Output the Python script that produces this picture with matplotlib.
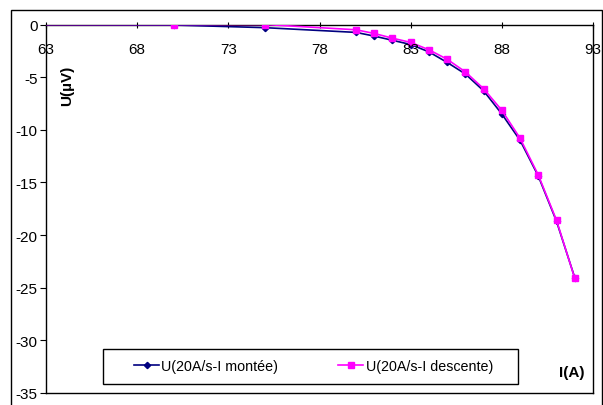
import matplotlib.pyplot as plt
from matplotlib.patches import Rectangle

plt.rcParams['font.family'] = ['Liberation Sans', 'DejaVu Sans']
plt.rcParams['axes.unicode_minus'] = False

# Data
current = [60, 70, 75, 80, 81, 82, 83, 84, 85, 86, 87, 88, 89, 90, 91, 92]
u_montee = [0, -0.05, -0.3, -0.75, -1.1, -1.5, -1.9, -2.6, -3.6, -4.7, -6.3, -8.5, -11.0, -14.4, -18.7, -24.05]
u_descente = [0, 0, 0, -0.5, -0.85, -1.3, -1.7, -2.4, -3.3, -4.5, -6.1, -8.15, -10.8, -14.3, -18.6, -24.1]

x_ticks = [63, 68, 73, 78, 83, 88, 93]
y_ticks = [0, -5, -10, -15, -20, -25, -30, -35]

W, H = 603, 406
fig = plt.figure(figsize=(W / 100, H / 100), dpi=100)
ax = fig.add_axes([46 / W, 1 - 394 / H, (593 - 46) / W, (394 - 25.5) / H])

# outer chart border
fig.patches.append(Rectangle((11 / W, -0.01), (601.5 - 11) / W, 1 - 11 / H + 0.01,
                             transform=fig.transFigure, fill=False, edgecolor='black', lw=1))

ax.plot(current, u_montee, color='#000080', lw=1.2, marker='D', ms=3.2, zorder=3,
        label='U(20A/s-I montée)')
ax.plot(current, u_descente, color='#FF00FF', lw=1.2, marker='s', ms=4.5, zorder=3,
        label='U(20A/s-I descente)')

ax.set_xlim(63, 93)
ax.set_ylim(-35, 0)
ax.set_xticks(x_ticks)
ax.set_yticks(y_ticks)
ax.xaxis.set_ticks_position('top')
ax.tick_params(axis='x', direction='inout', length=4, labeltop=False, labelbottom=False)
ax.tick_params(axis='y', direction='out', length=4, labelsize=11, pad=2)
for t in x_ticks:
    ax.text(t, -2.3, str(t), ha='center', va='center', fontsize=11)

for s in ax.spines.values():
    s.set_linewidth(1)

ax.text(64.15, -5.7, 'U(µV)', rotation=90, ha='center', va='center', fontsize=11, fontweight='bold')
ax.text(91.85, -33.0, 'I(A)', ha='center', va='center', fontsize=11, fontweight='bold')

# legend frame drawn separately, entries centred inside it
fig.patches.append(Rectangle((103 / W, 1 - 385 / H), (518 - 103) / W, 35 / H,
                             transform=fig.transFigure, fill=False, edgecolor='black', lw=1))
leg = fig.legend(loc='center', bbox_to_anchor=(313.5 / W, 1 - 367.5 / H), ncol=2, fontsize=10.3,
                 frameon=False, handlelength=1.75, handletextpad=0.15, columnspacing=4.2,
                 borderpad=0, borderaxespad=0)

fig.savefig('out.png', dpi=100)
